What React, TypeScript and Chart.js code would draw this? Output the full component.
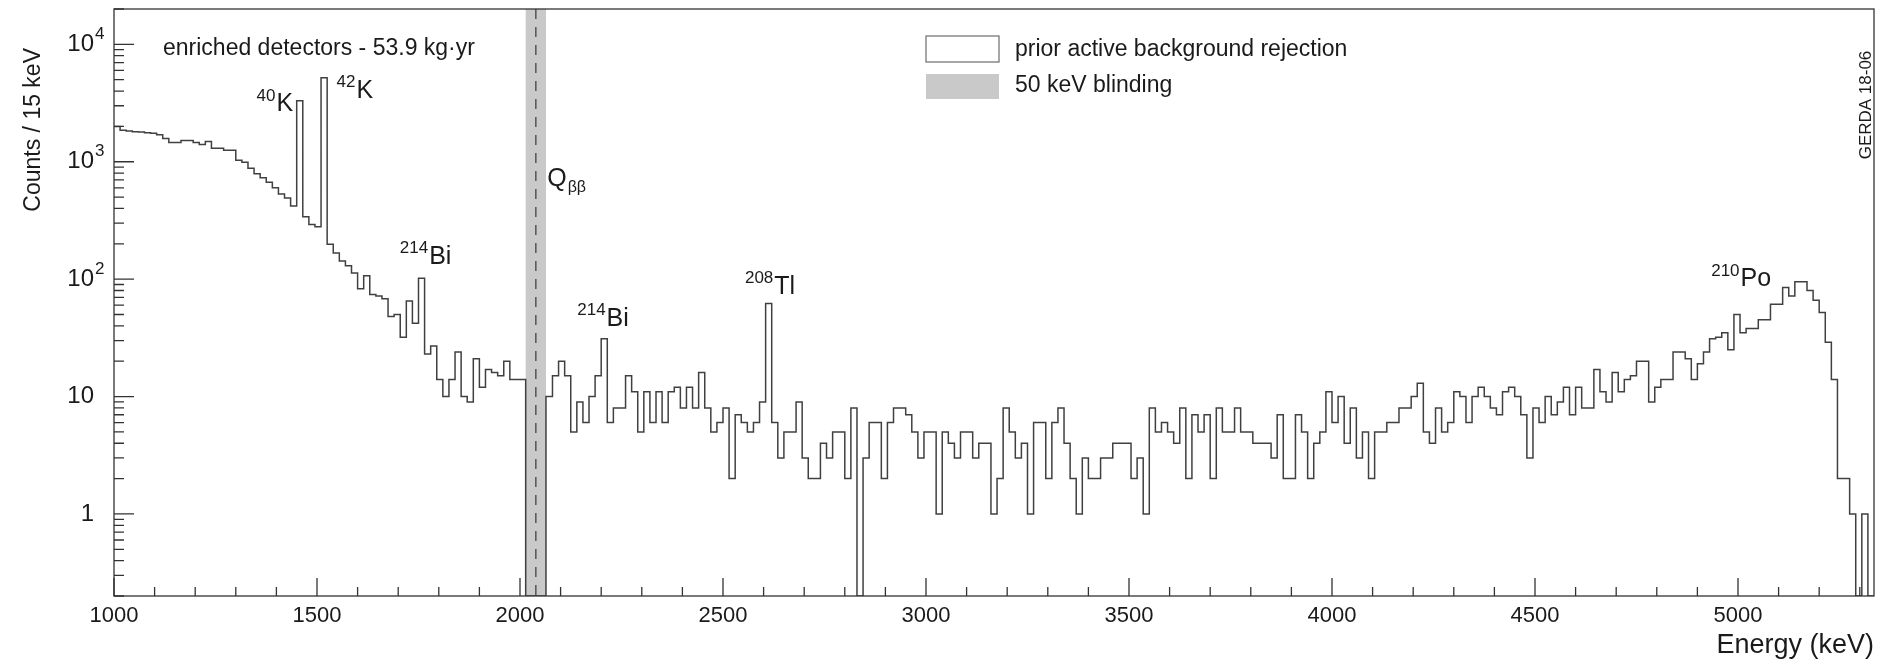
import { useEffect, useRef } from 'react';
import { Chart, registerables } from 'chart.js';

Chart.register(...registerables);

// ---------- data ----------
const BIN_START = 1000; // keV, low edge of first bin
const BIN_WIDTH = 15; // keV
const X_MIN = 1000;
const X_MAX = 5335;
const Y_MIN = 0.2;
const Y_MAX = 20000;
const BLIND_LOW = 2014;
const BLIND_HIGH = 2064;
const Q_BB = 2039;

// counts per 15 keV bin
const countsContinuum = [2000, 1850, 1830, 1800, 1790, 1770, 1750, 1700, 1580, 1460, 1460, 1520, 1520, 1460, 1400, 1490, 1300, 1300, 1250, 1250, 1030, 990, 880, 790, 730, 670, 600, 530, 490, 420];
const countsPotassium = [3300, 340, 292, 280, 5200, 198, 167, 143, 130, 113, 83, 107, 74, 72, 68, 48, 50, 32, 65, 42, 102, 23, 27, 14, 10, 14, 24, 10, 9, 21, 12, 17, 16];
const countsQbbRegion = [15, 20, 14, 14, 14, 0, 0, 10, 10, 15, 20, 15, 5, 9, 6, 10, 15, 31, 6, 8, 8, 15, 11, 5, 11, 6, 11, 6, 11, 12, 8, 12, 8];
const countsThallium = [16, 8, 5, 6, 8, 2, 7, 6, 5, 6, 9, 62, 6, 3, 5, 5, 9, 3, 2, 2, 4, 3, 5, 5, 2, 8, 0, 3, 6, 6, 2, 6, 8];
const countsAlphaLow = [8, 7, 5, 3, 5, 5, 1, 5, 4, 3, 5, 5, 3, 4, 4, 1, 2, 8, 5, 3, 4, 1, 6, 6, 2, 6, 8, 4, 2, 1, 3, 2, 2];
const countsAlphaMid = [3, 3, 4, 4, 4, 2, 3, 1, 8, 5, 6, 5, 4, 8, 2, 7, 5, 7, 2, 8, 5, 5, 8, 5, 5, 4, 4, 4, 3, 7, 2, 2];
const countsAlphaHigh = [7, 5, 2, 4, 5, 11, 6, 10, 4, 8, 3, 5, 2, 5, 5, 6, 6, 8, 8, 10, 13, 5, 4, 8, 5, 6, 11, 10, 6, 10, 12, 10, 8];
const countsRise = [7, 11, 12, 10, 7, 3, 8, 6, 10, 7, 9, 12, 7, 12, 8, 8, 17, 11, 9, 16, 11, 14, 15, 20, 20, 9, 12, 14, 14, 24];
const countsPolonium = [24, 21, 14, 19, 24, 31, 32, 35, 25, 50, 35, 38, 38, 45, 45, 61, 61, 85, 72, 95, 95, 80, 66, 52, 29, 14, 2, 2, 1, 0, 1, 0];

const counts = [
  ...countsContinuum,
  ...countsPotassium,
  ...countsQbbRegion,
  ...countsThallium,
  ...countsAlphaLow,
  ...countsAlphaMid,
  ...countsAlphaHigh,
  ...countsRise,
  ...countsPolonium,
];

const xMajorTicks = [1000, 1500, 2000, 2500, 3000, 3500, 4000, 4500, 5000];
const xMinorStep = 100;
const yDecades = [1, 10, 100, 1000, 10000];
const yDecadeLabels = [
  { base: '1', sup: '' },
  { base: '10', sup: '' },
  { base: '10', sup: '2' },
  { base: '10', sup: '3' },
  { base: '10', sup: '4' },
];

// peak annotations: superscript, main text, anchor (energy keV, counts)
const peakLabels = [
  { sup: '40', text: 'K', energy: 1351, value: 2700 },
  { sup: '42', text: 'K', energy: 1548, value: 3500 },
  { sup: '214', text: 'Bi', energy: 1704, value: 135 },
  { sup: '214', text: 'Bi', energy: 2141, value: 40 },
  { sup: '208', text: 'Tl', energy: 2554, value: 75 },
  { sup: '210', text: 'Po', energy: 4934, value: 87 },
];

const FONT = '"Liberation Sans", Arial, Helvetica, sans-serif';
const LINE_COLOR = '#404040';
const BAND_COLOR = '#c9c9c9';
const TEXT_COLOR = '#1a1a1a';

// build step points of the histogram (blinded window cut out)
function buildPoints() {
  const pts: { x: number; y: number }[] = [];
  const floor = (v: number) => (v > 0 ? v : Y_MIN);
  counts.forEach((c, i) => {
    const lo = BIN_START + i * BIN_WIDTH;
    const hi = lo + BIN_WIDTH;
    if (hi <= BLIND_LOW || lo >= BLIND_HIGH) {
      pts.push({ x: lo, y: floor(c) });
    } else {
      if (lo < BLIND_LOW) pts.push({ x: lo, y: floor(c) });
      pts.push({ x: Math.max(lo, BLIND_LOW), y: Y_MIN });
      if (hi > BLIND_HIGH) pts.push({ x: BLIND_HIGH, y: floor(c) });
    }
  });
  const last = counts[counts.length - 1];
  pts.push({ x: BIN_START + counts.length * BIN_WIDTH, y: floor(last) });
  return pts;
}

function supText(
  ctx: CanvasRenderingContext2D,
  sup: string,
  text: string,
  x: number,
  y: number,
  size: number,
  supSize: number,
) {
  ctx.textAlign = 'left';
  ctx.textBaseline = 'alphabetic';
  ctx.font = `${supSize}px ${FONT}`;
  ctx.fillText(sup, x, y - size * 0.42);
  const w = ctx.measureText(sup).width;
  ctx.font = `${size}px ${FONT}`;
  ctx.fillText(text, x + w + 1, y);
}

const rootStyle = {
  id: 'rootStyle',
  beforeDatasetsDraw(chart: any) {
    const { ctx, chartArea: a, scales } = chart;
    const x = scales.x;
    const x0 = x.getPixelForValue(BLIND_LOW);
    const x1 = x.getPixelForValue(BLIND_HIGH);
    ctx.save();
    ctx.fillStyle = BAND_COLOR;
    ctx.fillRect(x0, a.top, x1 - x0, a.bottom - a.top);
    const xq = x.getPixelForValue(Q_BB);
    ctx.strokeStyle = '#555';
    ctx.lineWidth = 1.5;
    ctx.setLineDash([10, 8]);
    ctx.beginPath();
    ctx.moveTo(xq, a.top);
    ctx.lineTo(xq, a.bottom);
    ctx.stroke();
    ctx.restore();
  },
  afterDraw(chart: any) {
    const { ctx, chartArea: a, scales } = chart;
    const xs = scales.x;
    const ys = scales.y;
    ctx.save();
    // frame
    ctx.strokeStyle = '#333';
    ctx.lineWidth = 1.3;
    ctx.strokeRect(a.left, a.top, a.right - a.left, a.bottom - a.top);

    // x ticks
    ctx.beginPath();
    for (let v = X_MIN; v <= X_MAX; v += xMinorStep) {
      const px = xs.getPixelForValue(v);
      const major = xMajorTicks.includes(v);
      ctx.moveTo(px, a.bottom);
      ctx.lineTo(px, a.bottom - (major ? 18 : 9));
    }
    // y ticks
    for (let d = 0.1; d <= Y_MAX * 1.0001; d *= 10) {
      for (let m = 1; m <= 9; m++) {
        const v = d * m;
        if (v < Y_MIN * 0.9999 || v > Y_MAX * 1.0001) continue;
        const py = ys.getPixelForValue(v);
        const major = m === 1;
        ctx.moveTo(a.left, py);
        ctx.lineTo(a.left + (major ? 20 : 10), py);
      }
    }
    ctx.stroke();

    ctx.fillStyle = TEXT_COLOR;
    // x tick labels
    ctx.font = `22px ${FONT}`;
    ctx.textAlign = 'center';
    ctx.textBaseline = 'alphabetic';
    xMajorTicks.forEach((v) => {
      ctx.fillText(String(v), xs.getPixelForValue(v), a.bottom + 26);
    });
    // y tick labels
    yDecades.forEach((v, i) => {
      const py = ys.getPixelForValue(v);
      const lab = yDecadeLabels[i];
      ctx.font = `24px ${FONT}`;
      ctx.textAlign = 'right';
      ctx.textBaseline = 'middle';
      const rx = a.left - 20;
      ctx.fillText(lab.base, rx, py);
      if (lab.sup) {
        ctx.font = `17px ${FONT}`;
        ctx.textAlign = 'left';
        ctx.fillText(lab.sup, rx + 1, py - 10);
      }
    });

    // axis titles
    ctx.font = `27px ${FONT}`;
    ctx.textAlign = 'right';
    ctx.textBaseline = 'alphabetic';
    ctx.fillText('Energy (keV)', a.right, a.bottom + 57);
    ctx.save();
    ctx.translate(34, a.top + 39);
    ctx.rotate(-Math.PI / 2);
    ctx.textAlign = 'right';
    ctx.textBaseline = 'middle';
    ctx.font = `23px ${FONT}`;
    ctx.fillText('Counts / 15 keV', 0, 0);
    ctx.restore();

    // exposure text
    ctx.font = `23px ${FONT}`;
    ctx.textAlign = 'left';
    ctx.textBaseline = 'middle';
    ctx.fillText('enriched detectors - 53.9 kg\u00b7yr', 163, 49);

    // legend
    ctx.lineWidth = 1.3;
    ctx.strokeStyle = '#777';
    ctx.fillStyle = '#fff';
    ctx.fillRect(926, 36, 73, 26);
    ctx.strokeRect(926, 36, 73, 26);
    ctx.fillStyle = BAND_COLOR;
    ctx.fillRect(926, 74, 73, 25);
    ctx.fillStyle = TEXT_COLOR;
    ctx.font = `23px ${FONT}`;
    ctx.textBaseline = 'middle';
    ctx.fillText('prior active background rejection', 1015, 50);
    ctx.fillText('50 keV blinding', 1015, 86);

    // peak labels
    peakLabels.forEach((p) => {
      const px = xs.getPixelForValue(p.energy);
      const py = ys.getPixelForValue(p.value);
      supText(ctx, p.sup, p.text, px, py, 25, 17);
    });

    // Q_bb label
    const qx = xs.getPixelForValue(2067);
    const qy = ys.getPixelForValue(620);
    ctx.textAlign = 'left';
    ctx.textBaseline = 'alphabetic';
    ctx.font = `25px ${FONT}`;
    ctx.fillText('Q', qx, qy);
    const qw = ctx.measureText('Q').width;
    ctx.font = `16px ${FONT}`;
    ctx.fillText('\u03b2\u03b2', qx + qw + 1, qy + 6);

    // GERDA tag
    ctx.save();
    ctx.translate(1866, 105);
    ctx.rotate(-Math.PI / 2);
    ctx.textAlign = 'center';
    ctx.textBaseline = 'middle';
    ctx.font = `17px ${FONT}`;
    ctx.fillText('GERDA 18-06', 0, 0);
    ctx.restore();

    ctx.restore();
  },
};

export default function App() {
  const ref = useRef<HTMLCanvasElement | null>(null);
  useEffect(() => {
    document.body.style.margin = '0';
    const canvas = ref.current;
    if (!canvas) return;
    const chart = new Chart(canvas, {
      type: 'line',
      data: {
        datasets: [
          {
            data: buildPoints(),
            stepped: true,
            borderColor: LINE_COLOR,
            borderWidth: 1.5,
            pointRadius: 0,
            fill: false,
            tension: 0,
          },
        ],
      },
      options: {
        animation: false,
        responsive: false,
        maintainAspectRatio: false,
        layout: { padding: { left: 114, right: 7, top: 9, bottom: 65 } },
        scales: {
          x: { type: 'linear', min: X_MIN, max: X_MAX, display: false },
          y: { type: 'logarithmic', min: Y_MIN, max: Y_MAX, display: false },
        },
        plugins: { legend: { display: false }, tooltip: { enabled: false } },
      },
      plugins: [rootStyle],
    });
    return () => chart.destroy();
  }, []);
  return (
    <div style={{ width: 1881, height: 661, background: '#fff' }}>
      <canvas ref={ref} width={1881} height={661} style={{ display: 'block' }} />
    </div>
  );
}
